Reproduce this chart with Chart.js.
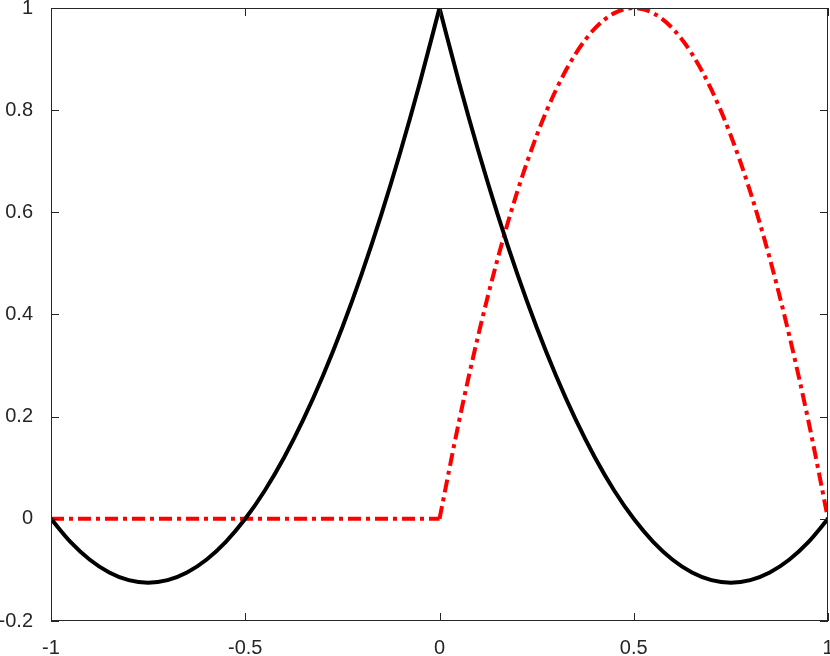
<!DOCTYPE html>
<html>
<head>
<meta charset="utf-8">
<script src="https://cdn.jsdelivr.net/npm/chart.js@4"></script>
<style>
  html, body { margin: 0; padding: 0; background: #fff; }
  #wrap { width: 830px; height: 656px; }
</style>
</head>
<body>
<div id="wrap"><canvas id="chart" width="830" height="656"></canvas></div>
<script>
// values
const blackLeftX = [-1, -0.95, -0.9, -0.85, -0.8, -0.75, -0.7, -0.65, -0.6, -0.55, -0.5, -0.45, -0.4, -0.35, -0.3, -0.25, -0.2, -0.15, -0.1, -0.05, 0];
const blackLeftY = [0, -0.045, -0.08, -0.105, -0.12, -0.125, -0.12, -0.105, -0.08, -0.045, 0, 0.055, 0.12, 0.195, 0.28, 0.375, 0.48, 0.595, 0.72, 0.855, 1];
const blackRightX = [0, 0.05, 0.1, 0.15, 0.2, 0.25, 0.3, 0.35, 0.4, 0.45, 0.5, 0.55, 0.6, 0.65, 0.7, 0.75, 0.8, 0.85, 0.9, 0.95, 1];
const blackRightY = [1, 0.855, 0.72, 0.595, 0.48, 0.375, 0.28, 0.195, 0.12, 0.055, 0, -0.045, -0.08, -0.105, -0.12, -0.125, -0.12, -0.105, -0.08, -0.045, 0];
const redFlatX = [-1, 0];
const redFlatY = [0, 0];
const redArchX = [0, 0.05, 0.1, 0.15, 0.2, 0.25, 0.3, 0.35, 0.4, 0.45, 0.5, 0.55, 0.6, 0.65, 0.7, 0.75, 0.8, 0.85, 0.9, 0.95, 1];
const redArchY = [0, 0.19, 0.36, 0.51, 0.64, 0.75, 0.84, 0.91, 0.96, 0.99, 1, 0.99, 0.96, 0.91, 0.84, 0.75, 0.64, 0.51, 0.36, 0.19, 0];
const xTicks = [-1, -0.5, 0, 0.5, 1];
const yTicks = [-0.2, 0, 0.2, 0.4, 0.6, 0.8, 1];

function pts(xs, ys) {
  return xs.map((x, i) => ({ x: x, y: ys[i] }));
}

function line(xs, ys, color, dash) {
  return {
    data: pts(xs, ys),
    showLine: true,
    borderColor: color,
    borderWidth: 4,
    borderDash: dash || [],
    pointRadius: 0,
    cubicInterpolationMode: 'monotone'
  };
}

// box around the plot plus inward tick marks, matlab style
const boxPlugin = {
  id: 'box',
  afterDraw(chart) {
    const ctx = chart.ctx;
    const a = chart.chartArea;
    const xs = chart.scales.x, ys = chart.scales.y;
    ctx.save();
    ctx.strokeStyle = '#262626';
    ctx.lineWidth = 1;
    ctx.strokeRect(a.left + 0.5, a.top + 0.5, a.right - a.left - 1, a.bottom - a.top - 1);
    ctx.beginPath();
    xTicks.forEach(v => {
      const px = Math.round(xs.getPixelForValue(v)) + 0.5;
      ctx.moveTo(px, a.bottom); ctx.lineTo(px, a.bottom - 8);
      ctx.moveTo(px, a.top); ctx.lineTo(px, a.top + 8);
    });
    yTicks.forEach(v => {
      const py = Math.round(ys.getPixelForValue(v)) + 0.5;
      ctx.moveTo(a.left, py); ctx.lineTo(a.left + 8, py);
      ctx.moveTo(a.right, py); ctx.lineTo(a.right - 8, py);
    });
    ctx.stroke();
    ctx.restore();
  }
};

const tickFont = { family: 'Liberation Sans', size: 20 };

const ctx = document.getElementById('chart').getContext('2d');
new Chart(ctx, {
  type: 'scatter',
  data: {
    datasets: [
      line(blackLeftX, blackLeftY, '#000'),
      line(blackRightX, blackRightY, '#000'),
      line(redFlatX, redFlatY, '#ff0000', [13, 5, 4, 5]),
      line(redArchX, redArchY, '#ff0000', [13, 5, 4, 5])
    ]
  },
  options: {
    responsive: false,
    animation: false,
    layout: { padding: { top: 8, right: 2, left: 0, bottom: 0 } },
    plugins: { legend: { display: false }, tooltip: { enabled: false } },
    scales: {
      x: {
        type: 'linear',
        min: -1, max: 1,
        afterBuildTicks: s => { s.ticks = xTicks.map(v => ({ value: v })); },
        afterFit: s => { s.height = 35; s.paddingLeft = 0; s.paddingRight = 0; },
        grid: { display: false },
        border: { display: false },
        ticks: { color: '#262626', padding: 7, font: tickFont, maxRotation: 0,
                 callback: v => String(v) }
      },
      y: {
        min: -0.2, max: 1,
        afterBuildTicks: s => { s.ticks = yTicks.map(v => ({ value: v })); },
        afterFit: s => { s.width = 51; s.paddingTop = 0; s.paddingBottom = 0; },
        grid: { display: false },
        border: { display: false },
        ticks: { color: '#262626', padding: 10, font: tickFont,
                 callback: v => String(Math.round(v * 10) / 10) }
      }
    }
  },
  plugins: [boxPlugin]
});
</script>
</body>
</html>
